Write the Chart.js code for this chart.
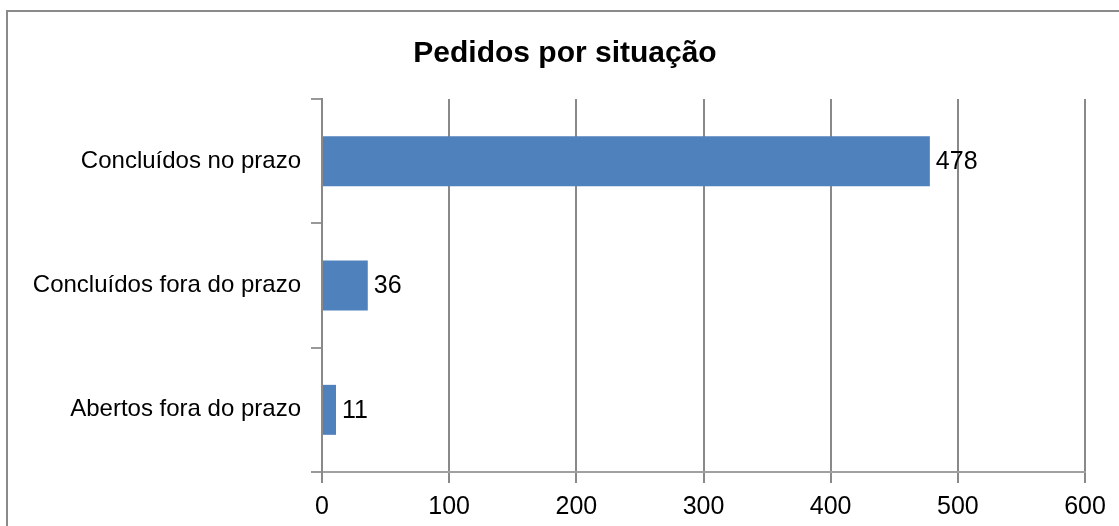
<!DOCTYPE html>
<html>
<head>
<meta charset="utf-8">
<script src="https://cdn.jsdelivr.net/npm/chart.js@4/dist/chart.umd.min.js"></script>
<style>
html,body{margin:0;padding:0;background:#fff;}
#wrap{width:1119px;height:526px;position:relative;}
</style>
</head>
<body>
<div id="wrap"><canvas id="c" width="1119" height="526"></canvas></div>
<script>
const categories = ["Concluídos no prazo", "Concluídos fora do prazo", "Abertos fora do prazo"];
const values = [478, 36, 11];
const xTicks = [0, 100, 200, 300, 400, 500, 600];
const titleText = "Pedidos por situação";

const FONT = "'Liberation Sans', Arial, sans-serif";

const frame = {
  id: 'frame',
  afterDraw(chart) {
    const ctx = chart.ctx;
    ctx.save();
    ctx.strokeStyle = '#8a8a8a';
    ctx.lineWidth = 2;
    ctx.beginPath();
    ctx.moveTo(7, 600);
    ctx.lineTo(7, 11);
    ctx.lineTo(1200, 11);
    ctx.stroke();
    ctx.restore();
  }
};

const chartTitle = {
  id: 'chartTitle',
  afterDraw(chart) {
    const ctx = chart.ctx;
    ctx.save();
    ctx.font = "bold 30px " + FONT;
    ctx.fillStyle = '#000';
    ctx.textAlign = 'center';
    ctx.textBaseline = 'alphabetic';
    ctx.fillText(titleText, 565, 62);
    ctx.restore();
  }
};

const valueLabels = {
  id: 'valueLabels',
  afterDatasetsDraw(chart) {
    const ctx = chart.ctx;
    const meta = chart.getDatasetMeta(0);
    ctx.save();
    ctx.font = "25px " + FONT;
    ctx.fillStyle = '#000';
    ctx.textAlign = 'left';
    ctx.textBaseline = 'middle';
    meta.data.forEach((bar, i) => {
      ctx.fillText(String(values[i]), bar.x + 6, bar.y + 1);
    });
    ctx.restore();
  }
};

new Chart(document.getElementById('c'), {
  type: 'bar',
  data: {
    labels: categories,
    datasets: [{
      data: values,
      backgroundColor: '#4F81BD',
      borderWidth: 0,
      categoryPercentage: 1.0,
      barPercentage: 0.402
    }]
  },
  options: {
    indexAxis: 'y',
    responsive: false,
    animation: false,
    devicePixelRatio: 1,
    layout: { padding: { left: 10, right: 34, top: 99, bottom: 0 } },
    plugins: {
      legend: { display: false },
      tooltip: { enabled: false },
      title: { display: false }
    },
    scales: {
      x: {
        type: 'linear',
        position: 'bottom',
        min: 0,
        max: 600,
        afterBuildTicks(scale) { scale.ticks = xTicks.map(v => ({ value: v })); },
        afterFit(scale) { scale.height = 54; },
        grid: {
          color: '#898989',
          lineWidth: 2,
          drawTicks: true,
          tickLength: 11,
          tickColor: '#898989'
        },
        border: { display: true, color: '#a0a0a0', width: 2 },
        ticks: {
          color: '#000',
          padding: 9,
          maxRotation: 0,
          autoSkip: false,
          font: { family: FONT, size: 25 }
        }
      },
      y: {
        type: 'category',
        offset: true,
        afterFit(scale) { scale.width = 312; },
        grid: {
          offset: true,
          drawOnChartArea: false,
          drawTicks: true,
          tickLength: 11,
          tickColor: '#999999',
          lineWidth: 2
        },
        border: { display: true, color: '#898989', width: 2 },
        ticks: {
          color: '#000',
          padding: 10,
          font: { family: FONT, size: 24 }
        }
      }
    }
  },
  plugins: [frame, chartTitle, valueLabels]
});
</script>
</body>
</html>
